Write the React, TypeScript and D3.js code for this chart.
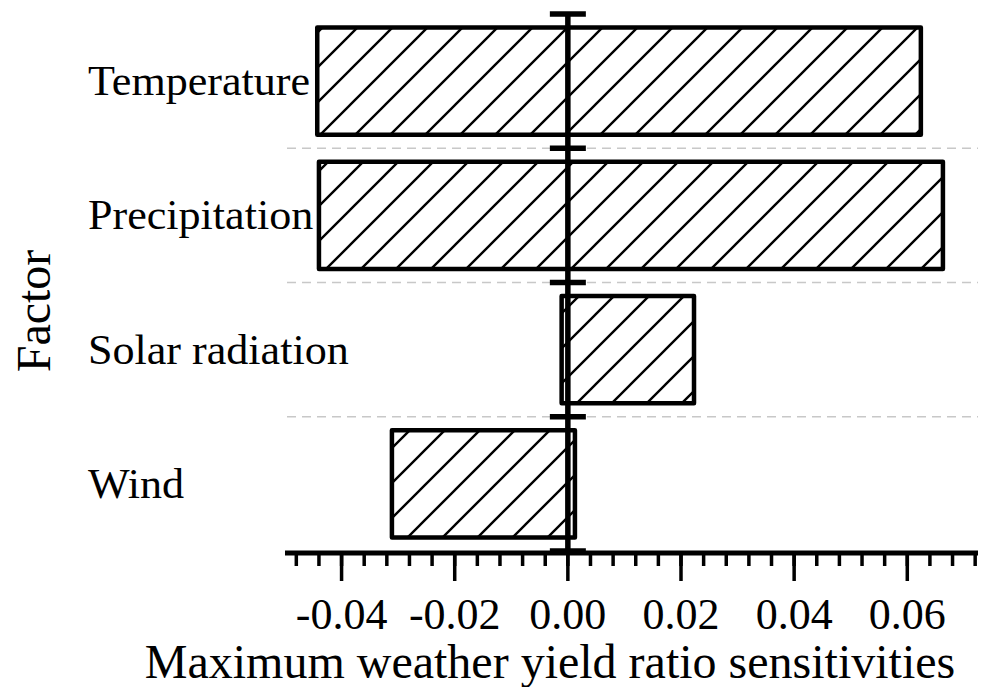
import React from 'react';
import * as d3 from 'd3';

// factors, top to bottom
const factors = ['Temperature', 'Precipitation', 'Solar radiation', 'Wind'];
// lower and upper ends of each sensitivity bar
const lowValues = [-0.0443, -0.044, -0.0011, -0.0311];
const highValues = [0.0624, 0.0663, 0.0223, 0.00125];
const majorTicks = [-0.04, -0.02, 0.0, 0.02, 0.04, 0.06];
const majorLabels = ['-0.04', '-0.02', '0.00', '0.02', '0.04', '0.06'];

const W = 984;
const H = 687;
const FONT = '"Liberation Serif", "Times New Roman", serif';

export default function App() {
  const x = d3.scaleLinear().domain([-0.05, 0.0725]).range([285, 978]);
  const y = d3.scaleBand<string>().domain(factors).range([14, 551]).paddingInner(0.2).paddingOuter(0.1);
  const axisY = 553;
  const zeroX = x(0);

  // minor ticks every 0.004
  const minorTicks = d3.range(-48, 73, 4).map((v) => v / 1000);
  // caps on the zero line at band boundaries
  const step = y.step();
  const capYs = d3.range(factors.length + 1).map((i) => 14 + i * step);

  return (
    <svg width={W} height={H} style={{ position: 'absolute', left: 0, top: 0, background: '#fff' }}
      fontFamily={FONT}>
      <defs>
        <pattern id="hatch" patternUnits="userSpaceOnUse" width={35} height={35}>
          <path d="M0,35 L35,0 M-5,5 L5,-5 M30,40 L40,30" stroke="#000" strokeWidth={2.4} />
        </pattern>
      </defs>
      <rect width={W} height={H} fill="#fff" />

      {/* dashed separators */}
      {capYs.slice(1, -1).map((cy, i) => (
        <line key={'g' + i} x1={287} x2={978} y1={cy} y2={cy} stroke="#c8c8c8" strokeWidth={1.5}
          strokeDasharray="9,6" />
      ))}

      {/* bars */}
      {factors.map((f, i) => {
        const x0 = x(lowValues[i]);
        const x1 = x(highValues[i]);
        return (
          <rect key={f} x={x0} y={y(f)!} width={x1 - x0} height={y.bandwidth()}
            fill="url(#hatch)" stroke="#000" strokeWidth={4.5} strokeLinejoin="round" />
        );
      })}

      {/* zero line with caps */}
      <line x1={zeroX} x2={zeroX} y1={capYs[0]} y2={axisY} stroke="#000" strokeWidth={5.5} />
      {capYs.map((cy, i) => (
        <line key={'c' + i} x1={zeroX - 18} x2={zeroX + 18} y1={cy} y2={cy} stroke="#000" strokeWidth={5.5} />
      ))}

      {/* category labels */}
      {factors.map((f) => (
        <text key={'l' + f} x={88} y={y(f)! + y.bandwidth() / 2 + 14} fontSize={42}
          transform={`translate(88,0) scale(1.05,1) translate(-88,0)`}>{f}</text>
      ))}

      {/* x axis */}
      <line x1={x.range()[0]} x2={x.range()[1]} y1={axisY} y2={axisY} stroke="#000" strokeWidth={5} />
      {minorTicks.map((t, i) => (
        <line key={'m' + i} x1={x(t)} x2={x(t)} y1={axisY} y2={axisY + 13} stroke="#000" strokeWidth={3.5} />
      ))}
      {majorTicks.map((t, i) => (
        <g key={'M' + i}>
          <line x1={x(t)} x2={x(t)} y1={axisY} y2={axisY + 28} stroke="#000" strokeWidth={3.5} />
          <text x={x(t)} y={629} fontSize={44} textAnchor="middle">{majorLabels[i]}</text>
        </g>
      ))}

      <text x={550} y={678} fontSize={48} textAnchor="middle">Maximum weather yield ratio sensitivities</text>
      <text transform="translate(50,311) rotate(-90)" fontSize={48} textAnchor="middle">Factor</text>
    </svg>
  );
}
